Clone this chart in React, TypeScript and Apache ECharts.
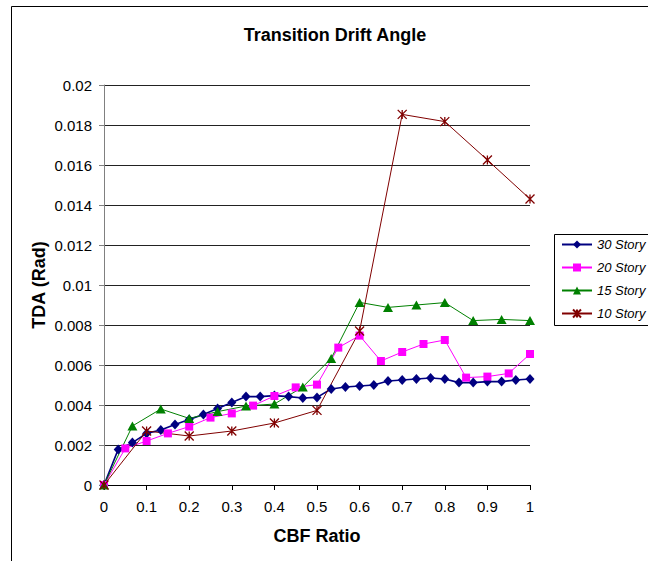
import React, { useEffect, useRef } from "react";
import * as echarts from "echarts";

const seriesNames = ["30 Story", "20 Story", "15 Story", "10 Story"];
const storyCounts = [30, 20, 15, 10];
const colors = ["#000080", "#FF00FF", "#008000", "#800000"];

const story30 = [
  0, 0.00178, 0.00212, 0.00258, 0.00275, 0.00303, 0.00328, 0.00353, 0.00383, 0.00412,
  0.00442, 0.00442, 0.00447, 0.00442, 0.00435, 0.00438, 0.0048, 0.0049, 0.00495, 0.005,
  0.0052, 0.00525, 0.0053, 0.00535, 0.0053, 0.00512, 0.00512, 0.00517, 0.00517, 0.00525, 0.0053,
];
const story20 = [
  0, 0.00183, 0.0022, 0.00258, 0.00292, 0.00337, 0.00358, 0.00397, 0.00445, 0.00488,
  0.00502, 0.00687, 0.00747, 0.0062, 0.00665, 0.00705, 0.00725, 0.00537, 0.00542, 0.00558, 0.00655,
];
const story15 = [
  0, 0.00295, 0.0038, 0.00333, 0.00367, 0.00395, 0.00405, 0.0049, 0.00633, 0.00913,
  0.00888, 0.009, 0.00912, 0.00822, 0.00828, 0.00822,
];
const story10 = [0, 0.0027, 0.00245, 0.0027, 0.0031, 0.00373, 0.0077, 0.01853, 0.01817, 0.01625, 0.0143];

const xTicks = ["0", "0.1", "0.2", "0.3", "0.4", "0.5", "0.6", "0.7", "0.8", "0.9", "1"];

const allValues = [story30, story20, story15, story10];
const symbols = [
  "diamond",
  "rect",
  "triangle",
  "path://M0,0L10,10M10,0L0,10M5,0L5,10",
];
const symbolSizes: any[] = [[9, 10], 8, [10, 9], 9];
const lineWidths = [1.6, 1, 1, 1];

const FONT = 'Arial, "Liberation Sans", sans-serif';

export default function App() {
  const ref = useRef<HTMLDivElement>(null);
  useEffect(() => {
    if (!ref.current) return;
    const chart = echarts.init(ref.current, undefined, { renderer: "svg" });
    const series = allValues.map((vals, si) => ({
      name: seriesNames[si],
      type: "line",
      data: vals.map((v, i) => [i / storyCounts[si], v]),
      symbol: symbols[si],
      symbolSize: symbolSizes[si],
      showAllSymbol: true,
      lineStyle: { color: colors[si], width: lineWidths[si] },
      itemStyle:
        si === 3
          ? { color: "none", borderColor: colors[si], borderWidth: 1.3 }
          : { color: colors[si], borderColor: colors[si], borderWidth: 0 },
      emphasis: { disabled: true },
    }));
    chart.setOption({
      animation: false,
      backgroundColor: "#ffffff",
      grid: { left: 104, top: 85, width: 426, height: 400, containLabel: false },
      xAxis: {
        type: "value",
        min: 0,
        max: 1,
        interval: 0.1,
        axisLine: { show: true, lineStyle: { color: "#000", width: 1 } },
        axisTick: { show: true, length: 5, lineStyle: { color: "#000" } },
        splitLine: { show: false },
        axisLabel: {
          margin: 14,
          color: "#000",
          fontSize: 15,
          fontFamily: FONT,
          formatter: (v: number) => xTicks[Math.round(v * 10)],
        },
      },
      yAxis: {
        type: "value",
        min: 0,
        max: 0.02,
        interval: 0.002,
        axisLine: { show: true, lineStyle: { color: "#808080", width: 1 } },
        axisTick: { show: true, length: 5, lineStyle: { color: "#808080" } },
        splitLine: { show: true, lineStyle: { color: "#222", width: 1 } },
        axisLabel: {
          margin: 12,
          color: "#000",
          fontSize: 15,
          fontFamily: FONT,
          formatter: (v: number) => String(+v.toFixed(3)),
        },
      },
      legend: {
        orient: "vertical",
        left: 556,
        top: 233,
        itemWidth: 30,
        itemHeight: 10,
        itemGap: 10,
        data: seriesNames,
        textStyle: { fontStyle: "italic", fontSize: 13, color: "#000", fontFamily: FONT },
      },
      graphic: [
        {
          type: "rect",
          shape: { x: 11.5, y: 6.5, width: 720, height: 600 },
          style: { fill: "none", stroke: "#000", lineWidth: 1 },
          silent: true,
        },
        {
          type: "rect",
          shape: { x: 554.5, y: 234.5, width: 130, height: 91 },
          style: { fill: "none", stroke: "#000", lineWidth: 1 },
          silent: true,
        },
        {
          type: "text",
          x: 335,
          y: 35,
          style: {
            text: "Transition Drift Angle",
            fontSize: 18,
            fontWeight: "bold",
            fontFamily: FONT,
            fill: "#000",
            align: "center",
            verticalAlign: "middle",
          },
        },
        {
          type: "text",
          x: 317,
          y: 536,
          style: {
            text: "CBF Ratio",
            fontSize: 18,
            fontWeight: "bold",
            fontFamily: FONT,
            fill: "#000",
            align: "center",
            verticalAlign: "middle",
          },
        },
        {
          type: "text",
          x: 39,
          y: 285,
          rotation: Math.PI / 2,
          style: {
            text: "TDA (Rad)",
            fontSize: 18,
            fontWeight: "bold",
            fontFamily: FONT,
            fill: "#000",
            align: "center",
            verticalAlign: "middle",
          },
        },
      ],
      series,
    });
    return () => chart.dispose();
  }, []);
  return (
    <div style={{ position: "fixed", left: 0, top: 0, width: 648, height: 561, overflow: "hidden", background: "#fff" }}>
      <div ref={ref} style={{ position: "absolute", left: 0, top: 0, width: 720, height: 561 }} />
    </div>
  );
}
